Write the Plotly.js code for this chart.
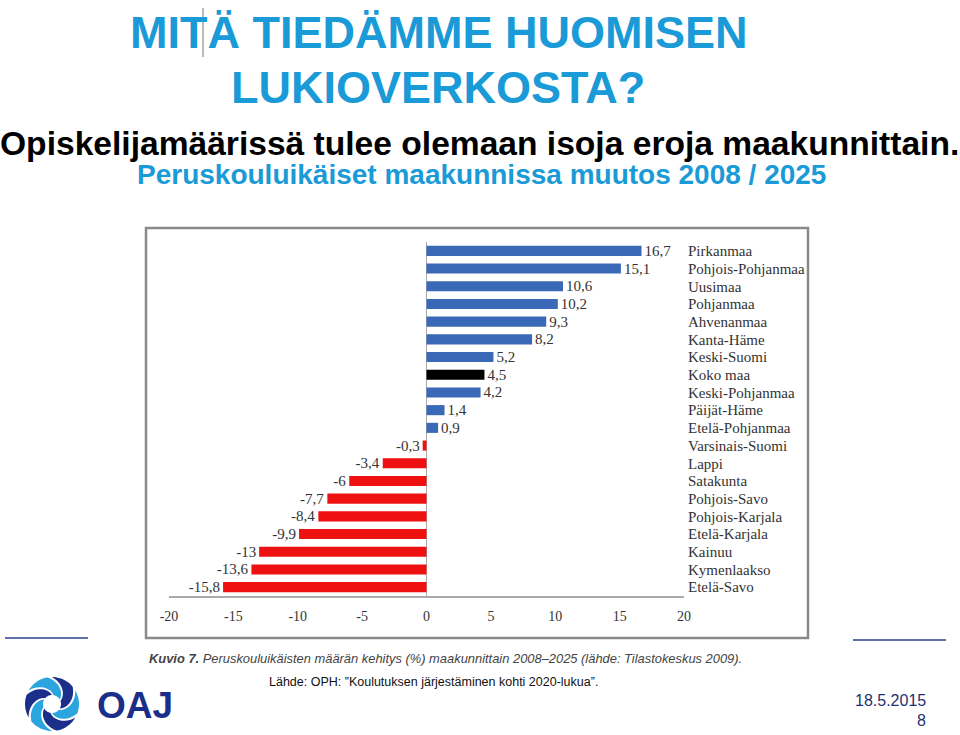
<!DOCTYPE html>
<html>
<head>
<meta charset="utf-8">
<script src="https://cdn.plot.ly/plotly-3.0.1.min.js"></script>
<style>html,body{margin:0;padding:0;background:#fff;}#chart{width:960px;height:735px;}</style>
</head>
<body>
<div id="chart"></div>
<script>
// ---- data ----
const regions = ['Pirkanmaa','Pohjois-Pohjanmaa','Uusimaa','Pohjanmaa','Ahvenanmaa','Kanta-Häme','Keski-Suomi','Koko maa','Keski-Pohjanmaa','Päijät-Häme','Etelä-Pohjanmaa','Varsinais-Suomi','Lappi','Satakunta','Pohjois-Savo','Pohjois-Karjala','Etelä-Karjala','Kainuu','Kymenlaakso','Etelä-Savo'];
const changes = [16.7, 15.1, 10.6, 10.2, 9.3, 8.2, 5.2, 4.5, 4.2, 1.4, 0.9, -0.3, -3.4, -6, -7.7, -8.4, -9.9, -13, -13.6, -15.8];
const xTicks = [-20, -15, -10, -5, 0, 5, 10, 15, 20];
const totalLabel = 'Koko maa';

// ---- layout geometry ----
const W = 960, H = 735;
const M = {l: 169, r: 276, t: 242, b: 139};
const PW = W - M.l - M.r, PH = H - M.t - M.b;
const px = x => (x - M.l) / PW;
const py = y => (H - M.b - y) / PH;

const BLUE = '#3a69b7', RED = '#ee1111', BLACK = '#000000';
const colors = changes.map((v, i) => regions[i] === totalLabel ? BLACK : (v < 0 ? RED : BLUE));
const labels = changes.map(v => String(v).replace('.', ','));

const SERIF = '"Liberation Serif", "Times New Roman", serif';
const SANS = '"Liberation Sans", Arial, sans-serif';

const trace = {
  type: 'bar', orientation: 'h',
  x: changes, y: regions,
  marker: {color: colors, line: {width: 0}},
  text: labels, textposition: 'outside', cliponaxis: false, constraintext: 'none',
  textfont: {family: SERIF, size: 15, color: '#333'},
  hoverinfo: 'x+y'
};

// ---- decorations ----
const shapes = [];
shapes.push({type: 'rect', xref: 'paper', yref: 'paper', x0: px(146), x1: px(808), y0: py(638), y1: py(228),
  line: {color: '#8a8a8a', width: 2.5}, fillcolor: 'rgba(0,0,0,0)', layer: 'below'});
shapes.push({type: 'line', xref: 'paper', yref: 'paper', x0: px(5), x1: px(88), y0: py(638), y1: py(638), line: {color: '#2b3f8f', width: 1.5}});
shapes.push({type: 'line', xref: 'paper', yref: 'paper', x0: px(853), x1: px(946), y0: py(640), y1: py(640), line: {color: '#2b3f8f', width: 1.5}});
shapes.push({type: 'line', xref: 'paper', yref: 'paper', x0: px(203), x1: px(203), y0: py(8), y1: py(57), line: {color: '#777', width: 1}});

// logo swirl: six sheared ring blades
(function () {
  const cx = 52, cy = 704, R = 27, r0 = 9;
  const deg = Math.PI / 180;
  const twist = 70 * deg, span = 50 * deg;
  const P = (a0, s, t) => {
    const th = a0 + s + t * twist;
    const rr = R - t * (R - r0);
    return [cx + rr * Math.cos(th), cy + rr * Math.sin(th)];
  };
  for (let i = 0; i < 6; i++) {
    const a0 = (i * 60 - 90) * deg;
    const pts = [];
    const n = 12;
    for (let k = 0; k <= n; k++) pts.push(P(a0, 0, k / n));
    for (let k = 1; k <= n; k++) pts.push(P(a0, span * k / n, 1));
    for (let k = n - 1; k >= 0; k--) pts.push(P(a0, span, k / n));
    for (let k = n - 1; k > 0; k--) pts.push(P(a0, span * k / n, 0));
    const d = 'M ' + pts.map(p => px(p[0]).toFixed(5) + ',' + py(p[1]).toFixed(5)).join(' L ') + ' Z';
    shapes.push({type: 'path', xref: 'paper', yref: 'paper', path: d,
      fillcolor: i % 2 === 0 ? '#1b2f8a' : '#2aa5de', line: {width: 0}});
  }
})();

const ann = (x, y, text, size, color, opts) => Object.assign({
  xref: 'paper', yref: 'paper', x: px(x), y: py(y), text: text, showarrow: false,
  xanchor: 'center', yanchor: 'middle',
  font: {family: SANS, size: size, color: color}
}, opts || {});

const annotations = [
  ann(438, 33, '<b>MITÄ TIEDÄMME HUOMISEN</b>', 45, '#1a9ad6'),
  ann(438, 87, '<b>LUKIOVERKOSTA?</b>', 45, '#1a9ad6'),
  ann(479, 143, '<b>Opiskelijamäärissä tulee olemaan isoja eroja maakunnittain.</b>', 33.6, '#000'),
  ann(481, 175, '<b>Peruskouluikäiset maakunnissa muutos 2008 / 2025</b>', 28, '#1a9ad6'),
  ann(147, 658, '<b>Kuvio 7.</b> Peruskouluikäisten määrän kehitys (%) maakunnittain 2008–2025 (lähde: Tilastokeskus 2009).', 12.9, '#444',
    {xanchor: 'left', font: {family: SANS, size: 12.9, color: '#444', style: 'italic'}}),
  ann(267, 682, 'Lähde: OPH: ”Koulutuksen järjestäminen kohti 2020-lukua”.', 12.5, '#111', {xanchor: 'left'}),
  ann(928, 700, '18.5.2015', 16, '#1f2f6f', {xanchor: 'right'}),
  ann(928, 720, '8', 16, '#1f2f6f', {xanchor: 'right'}),
  ann(95, 705, '<b>OAJ</b>', 37, '#1b2f8a', {xanchor: 'left'})
];

const layout = {
  width: W, height: H,
  margin: M,
  paper_bgcolor: '#fff', plot_bgcolor: 'rgba(0,0,0,0)',
  showlegend: false,
  bargap: 0.43,
  xaxis: {
    range: [-20, 20], tickvals: xTicks, ticktext: xTicks.map(String),
    showgrid: false, showline: true, linecolor: '#aaaaaa', linewidth: 1.5,
    zeroline: true, zerolinecolor: '#aaaaaa', zerolinewidth: 1,
    ticks: 'outside', ticklen: 7, tickcolor: 'rgba(0,0,0,0)',
    tickfont: {family: SERIF, size: 14, color: '#333'}, fixedrange: true
  },
  yaxis: {
    type: 'category', categoryorder: 'array', categoryarray: regions,
    tickmode: 'array', tickvals: regions, ticktext: regions,
    range: [19.5, -0.5], side: 'right', showgrid: false, showline: false, zeroline: false,
    ticks: '', ticklabelstandoff: 3,
    tickfont: {family: SERIF, size: 15, color: '#333'}, fixedrange: true
  },
  shapes: shapes,
  annotations: annotations
};

Plotly.newPlot('chart', [trace], layout, {displayModeBar: false, staticPlot: true});
</script>
</body>
</html>
